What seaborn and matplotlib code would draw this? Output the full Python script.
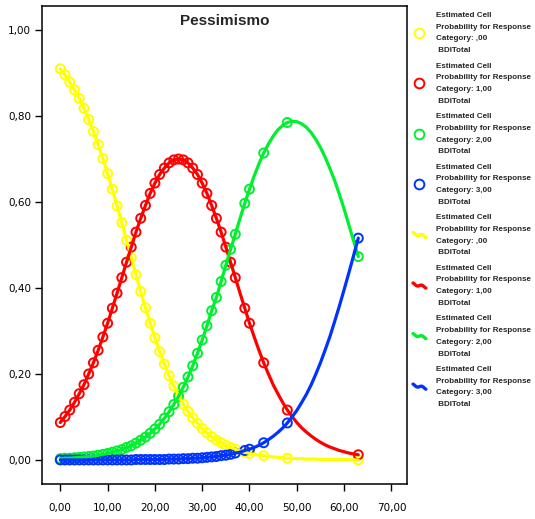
#!/usr/bin/env python3
# Pessimismo - estimated cell probabilities by BDI total (ordinal regression)

import numpy as np
import pandas as pd
import matplotlib
matplotlib.use('Agg')
import matplotlib.pyplot as plt
from matplotlib.lines import Line2D
from matplotlib.legend_handler import HandlerBase
from matplotlib.ticker import FuncFormatter
import seaborn as sns

sns.set_style('ticks')
plt.rcParams['font.family'] = ['DejaVu Sans']

# BDI total grid for the fitted curves, and the observed scores (markers)
bdi = list(range(64))
observed_bdi = list(range(38)) + [39, 40, 43, 48, 63]

p_cat0 = [0.910, 0.896, 0.879, 0.861, 0.841, 0.818, 0.792, 0.764, 0.734, 0.701,
          0.666, 0.630, 0.591, 0.552, 0.511, 0.471, 0.431, 0.392, 0.354, 0.318,
          0.284, 0.252, 0.223, 0.196, 0.172, 0.150, 0.130, 0.113, 0.098, 0.085,
          0.073, 0.063, 0.054, 0.046, 0.040, 0.034, 0.029, 0.025, 0.021, 0.018,
          0.015, 0.013, 0.011, 0.010, 0.008, 0.007, 0.006, 0.005, 0.004, 0.004,
          0.003, 0.003, 0.002, 0.002, 0.002, 0.001, 0.001, 0.001, 0.001, 0.001,
          0.001, 0.001, 0.000, 0.000]
p_cat1 = [0.087, 0.101, 0.116, 0.134, 0.154, 0.175, 0.200, 0.226, 0.255, 0.286,
          0.318, 0.353, 0.388, 0.424, 0.460, 0.495, 0.530, 0.562, 0.592, 0.620,
          0.644, 0.664, 0.679, 0.691, 0.698, 0.700, 0.698, 0.691, 0.679, 0.664,
          0.644, 0.620, 0.592, 0.562, 0.530, 0.495, 0.460, 0.424, 0.388, 0.353,
          0.318, 0.286, 0.255, 0.226, 0.200, 0.175, 0.154, 0.134, 0.116, 0.101,
          0.087, 0.075, 0.065, 0.056, 0.048, 0.041, 0.035, 0.030, 0.026, 0.022,
          0.019, 0.016, 0.014, 0.012]
p_cat2 = [0.003, 0.004, 0.004, 0.005, 0.006, 0.007, 0.008, 0.009, 0.011, 0.013,
          0.015, 0.018, 0.021, 0.024, 0.029, 0.033, 0.039, 0.046, 0.053, 0.062,
          0.072, 0.083, 0.097, 0.112, 0.129, 0.148, 0.169, 0.193, 0.219, 0.248,
          0.279, 0.312, 0.347, 0.378, 0.415, 0.453, 0.490, 0.525, 0.562, 0.597,
          0.630, 0.661, 0.689, 0.714, 0.735, 0.753, 0.768, 0.778, 0.785, 0.788,
          0.787, 0.782, 0.774, 0.762, 0.746, 0.727, 0.704, 0.678, 0.650, 0.618,
          0.584, 0.547, 0.510, 0.473]
p_cat3 = [0.000, 0.000, 0.000, 0.000, 0.000, 0.000, 0.000, 0.000, 0.000, 0.000,
          0.000, 0.000, 0.000, 0.000, 0.000, 0.000, 0.001, 0.001, 0.001, 0.001,
          0.001, 0.001, 0.001, 0.002, 0.002, 0.002, 0.003, 0.003, 0.004, 0.004,
          0.005, 0.006, 0.007, 0.008, 0.010, 0.011, 0.013, 0.016, 0.018, 0.022,
          0.025, 0.029, 0.034, 0.040, 0.047, 0.055, 0.064, 0.074, 0.086, 0.100,
          0.115, 0.133, 0.152, 0.174, 0.199, 0.226, 0.256, 0.287, 0.322, 0.358,
          0.396, 0.435, 0.475, 0.516]

categories = [',00', '1,00', '2,00', '3,00']
colors = ['#FFFF00', '#FF0000', '#00F030', '#0033FF']

curves = pd.DataFrame({'bdi': bdi, ',00': p_cat0, '1,00': p_cat1,
                       '2,00': p_cat2, '3,00': p_cat3})
long_df = curves.melt(id_vars='bdi', var_name='category', value_name='prob')
points_df = long_df[long_df['bdi'].isin(observed_bdi)]


class WaveHandler(HandlerBase):
    # squiggle glyph used by SPSS for fit lines in the legend
    def create_artists(self, legend, orig_handle, xdescent, ydescent,
                       width, height, fontsize, trans):
        t = np.linspace(0, 1, 30)
        xs = -xdescent + width * t
        ys = -ydescent + height * (0.5 + 0.45 * np.sin(2 * np.pi * t - np.pi / 2) * (t - 0.5) * 2)
        line = Line2D(xs, ys, color=orig_handle.get_color(), lw=2.4,
                      solid_capstyle='round')
        line.set_transform(trans)
        return [line]


fig = plt.figure(figsize=(5.35, 5.19), dpi=100)
ax = fig.add_axes([42 / 535, 1 - 484 / 519, 365 / 535, 478 / 519])

for cat, col in zip(categories, colors):
    sub = points_df[points_df['category'] == cat]
    sns.scatterplot(x='bdi', y='prob', data=sub, ax=ax, color=col,
                    facecolors='none', edgecolor=col, linewidth=1.4,
                    s=42, marker='o', legend=False, zorder=2)
for cat, col in zip(categories, colors):
    sub = long_df[long_df['category'] == cat]
    sns.lineplot(x='bdi', y='prob', data=sub, ax=ax, color=col, lw=2.3,
                 legend=False, zorder=3)

ax.set_xlim(-3.87, 73.3)
ax.set_ylim(-0.056, 1.056)
ax.set_xticks(range(0, 71, 10))
ax.set_yticks([0, 0.2, 0.4, 0.6, 0.8, 1.0])
comma_fmt = FuncFormatter(lambda v, pos: f"{v:.2f}".replace('.', ','))
ax.xaxis.set_major_formatter(comma_fmt)
ax.yaxis.set_major_formatter(comma_fmt)
ax.tick_params(axis='both', direction='out', length=5, width=1,
               labelsize=7.5, colors='black')
ax.tick_params(axis='x', pad=9)
ax.tick_params(axis='y', pad=3)
ax.set_xlabel('')
ax.set_ylabel('')
for sp in ax.spines.values():
    sp.set_visible(True)
    sp.set_linewidth(1.1)
    sp.set_color('black')

ax.text(0.5, 0.969, 'Pessimismo', transform=ax.transAxes, ha='center',
        va='center', fontsize=11, fontweight='bold', family='Liberation Sans')

# legend: markers first, then fit lines
handles, labels = [], []
for cat, col in zip(categories, colors):
    handles.append(Line2D([], [], ls='', marker='o', mfc='none', mec=col,
                          mew=1.4, markersize=7))
    labels.append(f"Estimated Cell\nProbability for Response\nCategory: {cat}\n BDITotal")
wave_handles = []
for cat, col in zip(categories, colors):
    h = Line2D([], [], color=col)
    wave_handles.append(h)
    handles.append(h)
    labels.append(f"Estimated Cell\nProbability for Response\nCategory: {cat}\n BDITotal")

leg = fig.legend(handles, labels, loc='upper left',
                 bbox_to_anchor=(413 / 535, 1 - 12 / 519), frameon=False,
                 prop={'family': 'Liberation Sans', 'weight': 'bold', 'size': 5.8},
                 handlelength=1.6, handletextpad=1.3, labelspacing=1.03,
                 borderpad=0, borderaxespad=0,
                 handler_map={h: WaveHandler() for h in wave_handles})
for t in leg.get_texts():
    t.set_linespacing(1.95)

fig.savefig('out.png', dpi=100)
